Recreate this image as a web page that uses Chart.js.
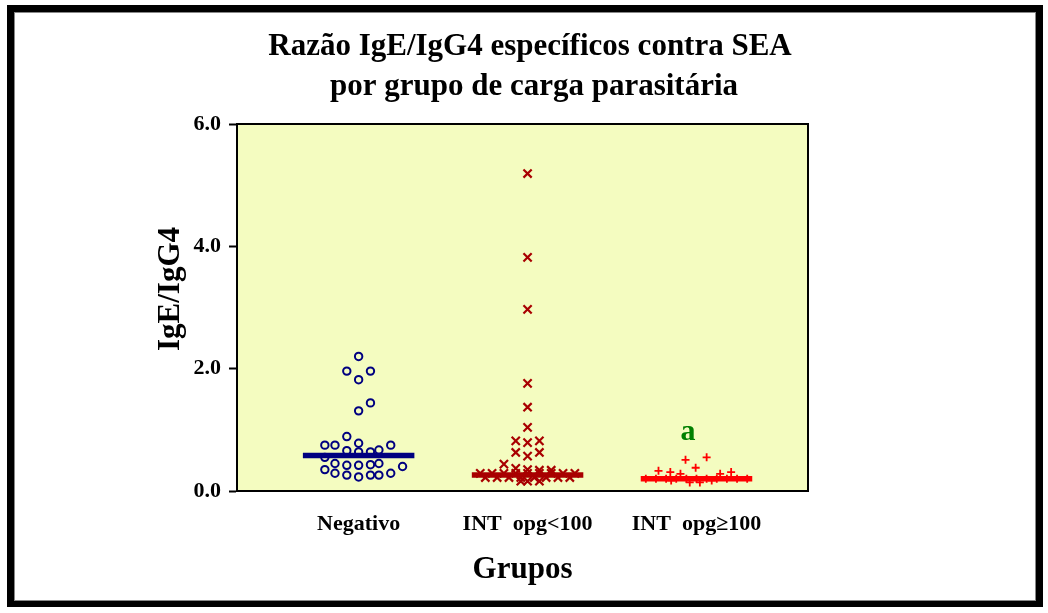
<!DOCTYPE html>
<html>
<head>
<meta charset="utf-8">
<script src="https://cdn.jsdelivr.net/npm/chart.js@4"></script>
<style>
  html, body { margin: 0; padding: 0; background: #fff; overflow: hidden; }
  canvas { display: block; }
</style>
</head>
<body>
<canvas id="chart" width="1048" height="613"></canvas>
<script>
const titleLines = ['Razão IgE/IgG4 específicos contra SEA', 'por grupo de carga parasitária'];
const yTitle = 'IgE/IgG4';
const xTitle = 'Grupos';
const groups = ['Negativo', 'INT  opg<100', 'INT  opg\u2265100'];
const yTicks = [0, 2, 4, 6];

// each group: horizontal jitter (in group units) and the IgE/IgG4 ratio
const negJitter = [0, -0.07, 0.07, 0, 0.07, 0, -0.07, -0.20, -0.14, 0, 0.19, -0.07, 0, 0.07, 0.12,
  -0.20, -0.14, -0.07, 0, 0.07, 0.12, 0.26, -0.20, -0.14, -0.07, 0, 0.07, 0.12, 0.19];
const negValues = [2.20, 1.96, 1.96, 1.82, 1.44, 1.31, 0.89, 0.75, 0.75, 0.78, 0.75, 0.66, 0.64, 0.64, 0.67,
  0.55, 0.45, 0.42, 0.42, 0.43, 0.45, 0.40, 0.35, 0.29, 0.26, 0.23, 0.26, 0.26, 0.29];

const lowJitter = [0, 0, 0, 0, 0, 0, -0.07, 0, 0.07, -0.07, 0, 0.07, -0.14, -0.07, 0, 0.07, 0.14,
  -0.28, -0.21, -0.14, -0.07, 0, 0.07, 0.14, 0.21, 0.28,
  -0.25, -0.18, -0.11, -0.04, 0.04, 0.11, 0.18, 0.25,
  -0.04, 0, 0.07];
const lowValues = [5.19, 3.82, 2.97, 1.76, 1.37, 1.04, 0.82, 0.79, 0.82, 0.63, 0.57, 0.63, 0.44, 0.37, 0.35, 0.34, 0.34,
  0.29, 0.29, 0.29, 0.29, 0.29, 0.29, 0.29, 0.29, 0.29,
  0.22, 0.22, 0.22, 0.22, 0.22, 0.22, 0.22, 0.22,
  0.16, 0.16, 0.16];

const highJitter = [-0.065, 0.06, -0.005, -0.225, -0.155, -0.095, 0.14, 0.205,
  -0.30, -0.24, -0.18, -0.12, -0.06, 0, 0.06, 0.12, 0.18, 0.24, 0.30,
  -0.15, 0.09, -0.04, 0.02];
const highValues = [0.51, 0.55, 0.38, 0.33, 0.31, 0.28, 0.28, 0.31,
  0.20, 0.20, 0.20, 0.20, 0.20, 0.20, 0.20, 0.20, 0.20, 0.20, 0.20,
  0.17, 0.17, 0.14, 0.14];

const medians = [0.58, 0.26, 0.20];
const sigLabel = { group: 3, jitter: -0.05, y: 0.96, text: 'a' };

const serif = "'Liberation Serif', 'Times New Roman', serif";
const navy = '#000080';
const darkRed = '#A80000';
const red = '#FF0000';
const medianHalf = 0.33;

function points(center, jitter, values) {
  return values.map((v, i) => ({ x: center + jitter[i], y: v }));
}
function medianLine(i, color) {
  return {
    data: [{ x: i + 1 - medianHalf, y: medians[i] }, { x: i + 1 + medianHalf, y: medians[i] }],
    showLine: true, borderColor: color, borderWidth: 5.5, pointRadius: 0, borderCapStyle: 'butt'
  };
}

const decorations = {
  id: 'decorations',
  beforeDraw(chart) {
    const { ctx, chartArea: a } = chart;
    ctx.save();
    ctx.fillStyle = '#fff';
    ctx.fillRect(0, 0, chart.width, chart.height);
    ctx.strokeStyle = '#000';
    ctx.lineWidth = 7;
    ctx.strokeRect(10.5, 8.5, 1029, 595);
    ctx.strokeStyle = '#888';
    ctx.lineWidth = 1;
    ctx.strokeRect(14.5, 12.5, 1021, 588);
    ctx.fillStyle = '#F4FCC0';
    ctx.fillRect(a.left, a.top, a.right - a.left, a.bottom - a.top);
    ctx.restore();
  },
  afterDatasetsDraw(chart) {
    const { ctx, chartArea: a, scales } = chart;
    ctx.save();
    ctx.strokeStyle = '#000';
    ctx.lineWidth = 2;
    ctx.beginPath();
    ctx.moveTo(a.left, a.top);
    ctx.lineTo(a.right, a.top);
    ctx.lineTo(a.right, a.bottom);
    ctx.stroke();

    ctx.fillStyle = '#000';
    ctx.textAlign = 'center';
    ctx.textBaseline = 'middle';
    ctx.font = 'bold 31px ' + serif;
    ctx.fillText(titleLines[0], 530, 47);
    ctx.fillText(titleLines[1], 534, 87);

    ctx.save();
    ctx.translate(171, 289);
    ctx.rotate(-Math.PI / 2);
    ctx.fillText(yTitle, 0, 0);
    ctx.restore();

    ctx.fillStyle = '#008000';
    ctx.font = 'bold 30px ' + serif;
    ctx.fillText(sigLabel.text, scales.x.getPixelForValue(sigLabel.group + sigLabel.jitter),
      scales.y.getPixelForValue(sigLabel.y));
    ctx.restore();
  }
};

new Chart(document.getElementById('chart'), {
  type: 'scatter',
  plugins: [decorations],
  data: {
    datasets: [
      medianLine(0, navy),
      medianLine(1, darkRed),
      medianLine(2, red),
      {
        data: points(1, negJitter, negValues),
        pointStyle: 'circle', pointRadius: 3.7, pointBorderWidth: 2,
        pointBorderColor: navy, pointBackgroundColor: 'rgba(0,0,0,0)'
      },
      {
        data: points(2, lowJitter, lowValues),
        pointStyle: 'crossRot', pointRadius: 5.8, pointBorderWidth: 2.2,
        pointBorderColor: darkRed, pointBackgroundColor: darkRed
      },
      {
        data: points(3, highJitter, highValues),
        pointStyle: 'cross', pointRadius: 4, pointBorderWidth: 1.8,
        pointBorderColor: red, pointBackgroundColor: red
      }
    ]
  },
  options: {
    responsive: false,
    animation: false,
    layout: { padding: { top: 124, right: 240, bottom: 0, left: 0 } },
    plugins: { legend: { display: false }, tooltip: { enabled: false } },
    scales: {
      x: {
        type: 'linear', min: 0.28, max: 3.66,
        afterBuildTicks: s => { s.ticks = groups.map((g, i) => ({ value: i + 1 })); },
        afterFit: s => { s.height = 122; },
        grid: { display: false, drawTicks: false },
        border: { display: true, color: '#000', width: 2 },
        ticks: {
          callback: v => groups[v - 1], autoSkip: false, maxRotation: 0, padding: 20,
          color: '#000', font: { family: serif, size: 22, weight: 'bold' }
        },
        title: {
          display: true, text: xTitle, color: '#000',
          font: { family: serif, size: 31, weight: 'bold' }, padding: { top: 0, bottom: 24 }
        }
      },
      y: {
        min: 0, max: 6,
        afterBuildTicks: s => { s.ticks = yTicks.map(v => ({ value: v })); },
        afterFit: s => { s.width = 237; },
        grid: { drawOnChartArea: false, drawTicks: true, tickLength: 8, tickColor: '#000', tickWidth: 2 },
        border: { display: true, color: '#000', width: 2 },
        ticks: {
          callback: v => v.toFixed(1), padding: 8,
          color: '#000', font: { family: serif, size: 22, weight: 'bold' }
        }
      }
    }
  }
});
</script>
</body>
</html>
